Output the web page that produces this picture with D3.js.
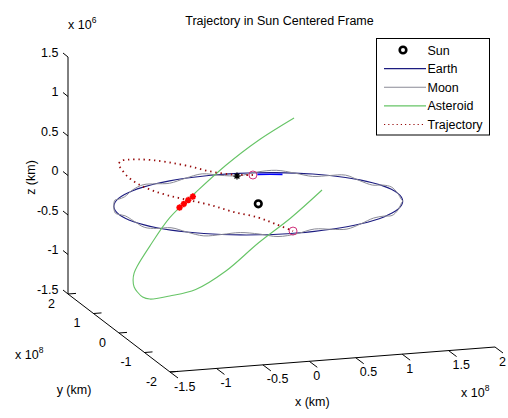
<!DOCTYPE html>
<html>
<head>
<meta charset="utf-8">
<script src="https://cdn.jsdelivr.net/npm/d3@7"></script>
<style>
  html, body { margin: 0; padding: 0; background: #fff; }
  svg { display: block; }
  text { font-family: "Liberation Sans", Arial, sans-serif; fill: #000; }
</style>
</head>
<body>
<svg id="chart" width="508" height="418"></svg>
<script>
// ---- data (x, y in 1e8 km; z in 1e6 km) ----
const xTicks = [-1.5, -1, -0.5, 0, 0.5, 1, 1.5, 2];
const yTicks = [-2, -1, 0, 1, 2];
const zTicks = [-1.5, -1, -0.5, 0, 0.5, 1, 1.5];
const xTickLabels = ["-1.5", "-1", "-0.5", "0", "0.5", "1", "1.5", "2"];
const yTickLabels = ["-2", "-1", "0", "1", "2"];
const zTickLabels = ["-1.5", "-1", "-0.5", "0", "0.5", "1", "1.5"];

const sunPos = [0, 0, 0];

const earthX = [1.5, 1.487, 1.449, 1.386, 1.299, 1.19, 1.061, 0.913, 0.75, 0.574, 0.388, 0.196,
  0, -0.196, -0.388, -0.574, -0.75, -0.913, -1.061, -1.19, -1.299, -1.386, -1.449, -1.487,
  -1.5, -1.487, -1.449, -1.386, -1.299, -1.19, -1.061, -0.913, -0.75, -0.574, -0.388, -0.196,
  0, 0.196, 0.388, 0.574, 0.75, 0.913, 1.061, 1.19, 1.299, 1.386, 1.449, 1.487];
const earthY = [0, 0.196, 0.388, 0.574, 0.75, 0.913, 1.061, 1.19, 1.299, 1.386, 1.449, 1.487,
  1.5, 1.487, 1.449, 1.386, 1.299, 1.19, 1.061, 0.913, 0.75, 0.574, 0.388, 0.196,
  0, -0.196, -0.388, -0.574, -0.75, -0.913, -1.061, -1.19, -1.299, -1.386, -1.449, -1.487,
  -1.5, -1.487, -1.449, -1.386, -1.299, -1.19, -1.061, -0.913, -0.75, -0.574, -0.388, -0.196];
const earthZ = [0, 0, 0, 0, 0, 0, 0, 0, 0, 0, 0, 0, 0, 0, 0, 0, 0, 0, 0, 0, 0, 0, 0, 0,
  0, 0, 0, 0, 0, 0, 0, 0, 0, 0, 0, 0, 0, 0, 0, 0, 0, 0, 0, 0, 0, 0, 0, 0];

// Moon follows the Earth, rising and falling about the ecliptic each month
const moonX = earthX;
const moonY = earthY;
const moonZ = [0.00, 0.03, 0.01, -0.03, -0.01, 0.03, 0.00, -0.03, 0.00, 0.03, 0.01, -0.03,
  -0.01, 0.03, 0.00, -0.03, 0.00, 0.03, 0.01, -0.03, -0.01, 0.03, 0.00, -0.03,
  0.00, 0.03, 0.01, -0.03, -0.01, 0.03, 0.00, -0.03, 0.00, 0.03, 0.01, -0.03,
  -0.01, 0.03, 0.00, -0.03, 0.00, 0.03, 0.01, -0.03, -0.01, 0.03, 0.00, -0.03];

// Earth positions while the craft is away
const earthArcX = [0.388, 0.513, 0.634];
const earthArcY = [1.449, 1.410, 1.359];
const earthArcZ = [-0.02, -0.02, -0.02];

const asteroidX = [0.342, -0.008, -0.344, -0.657, -0.925, -1.130, -1.258, -1.290, -1.300, -1.288,
  -1.254, -1.198, -1.122, -0.914, -0.643, -0.329, 0.008, 0.344, 0.688];
const asteroidY = [-1.254, -1.300, -1.254, -1.122, -0.914, -0.643, -0.329, -0.162, 0.008, 0.178,
  0.344, 0.505, 0.657, 0.925, 1.130, 1.258, 1.300, 1.254, 1.103];
const asteroidZ = [0.453, 0.142, -0.156, -0.515, -0.776, -0.906, -1.011, -1.024, -1.001, -0.981,
  -0.937, -0.892, -0.848, -0.681, -0.396, -0.138, 0.166, 0.461, 0.752];

const trajX = [0.330, 0.135, -0.118, -0.367, -0.605, -0.824, -1.019, -1.183, -1.311, -1.398,
  -1.444, -1.445, -1.403, -1.318, -1.193, -1.032, -0.839, -0.621, -0.384, -0.211, -0.024];
const trajY = [1.412, 1.444, 1.445, 1.403, 1.318, 1.193, 1.032, 0.839, 0.621, 0.384,
  0.135, -0.118, -0.367, -0.605, -0.824, -1.019, -1.183, -1.311, -1.398, -1.435, -1.450];
const trajZ = [-0.014, 0.0, 0.063, 0.165, 0.254, 0.334, 0.40, 0.457, 0.506, 0.522,
  0.549, 0.511, 0.473, 0.442, 0.416, 0.392, 0.352, 0.275, 0.206, 0.118, 0.015];

// rendezvous with the asteroid
const meetX = [-0.362, -0.416, -0.469, -0.521];
const meetY = [1.249, 1.232, 1.212, 1.191];
const meetZ = [-0.184, -0.219, -0.259, -0.294];

const departPos = [0.330, 1.412, -0.014];
const returnPos = [-0.024, -1.450, 0.015];
const craftPos = [0.166, 1.44, -0.02];

const legendLabels = ["Sun", "Earth", "Moon", "Asteroid", "Trajectory"];

// ---- scales & projection ----
const xS = d3.scaleLinear().domain([-1.5, 2]).range([0, 1]);
const yS = d3.scaleLinear().domain([-2, 2]).range([0, 1]);
const zS = d3.scaleLinear().domain([-1.5, 1.5]).range([0, 1]);

const O = [170, 372];        // corner (xmin, ymin, zmin)
const VX = [325, -25];       // full x span on screen
const VY = [-102, -78];      // full y span on screen
const VZ = [0, -237];        // full z span on screen

function P(x, y, z) {
  const a = xS(x), b = yS(y), c = zS(z);
  return [O[0] + a * VX[0] + b * VY[0] + c * VZ[0],
          O[1] + a * VX[1] + b * VY[1] + c * VZ[1]];
}
function pts(X, Y, Z) { return X.map((v, i) => P(v, Y[i], Z[i])); }

const svg = d3.select("#chart");
svg.append("rect").attr("width", 508).attr("height", 418).attr("fill", "#fff");

const FS = 12.5;
const COL = {
  earth: "#1c1c80",
  moon: "#8a8a96",
  earthArc: "#0000ff",
  asteroid: "#66c466",
  traj: "#960a0a",
  mark: "#d0307a",
  meet: "#ff0000"
};

// ---- axes ----
const ax = svg.append("g").attr("stroke", "#000").attr("stroke-width", 1).attr("fill", "none");
function seg(g, p, q) {
  g.append("line").attr("x1", p[0]).attr("y1", p[1]).attr("x2", q[0]).attr("y2", q[1]);
}
seg(ax, P(-1.5, -2, -1.5), P(2, -2, -1.5));
seg(ax, P(-1.5, -2, -1.5), P(-1.5, 2, -1.5));
seg(ax, P(-1.5, 2, -1.5), P(-1.5, 2, 1.5));

const lbl = svg.append("g").style("font-size", FS + "px");

xTicks.forEach((v, i) => {
  const p = P(v, -2, -1.5);
  seg(ax, p, [p[0] + 8, p[1] + 6]);
  lbl.append("text").attr("x", p[0] + 4).attr("y", p[1] + 18.5)
    .attr("text-anchor", "start").text(xTickLabels[i]);
});
yTicks.forEach((v, i) => {
  const p = P(-1.5, v, -1.5);
  seg(ax, p, [p[0] + 8, p[1] - 0.6]);
  lbl.append("text").attr("x", p[0] - 13).attr("y", p[1] + 13.5)
    .attr("text-anchor", "end").text(yTickLabels[i]);
});
zTicks.forEach((v, i) => {
  const p = P(-1.5, 2, v);
  seg(ax, p, [p[0] - 5, p[1] - 4]);
  lbl.append("text").attr("x", p[0] - 9.5).attr("y", p[1] - 0.5)
    .attr("text-anchor", "end").text(zTickLabels[i]);
});

// axis titles
const zc = P(-1.5, 2, 0);
lbl.append("text").attr("transform", `translate(${zc[0] - 37},${zc[1] + 2}) rotate(-90)`)
  .attr("text-anchor", "middle").attr("dy", "0.35em").text("z (km)");
const yc = P(-1.5, 0, -1.5);
lbl.append("text").attr("x", yc[0] - 45).attr("y", yc[1] + 61)
  .attr("text-anchor", "middle").text("y (km)");
const xc = P(0, -2, -1.5);
lbl.append("text").attr("x", xc[0] + 3).attr("y", xc[1] + 45)
  .attr("text-anchor", "middle").text("x (km)");

// exponent labels
function expo(x, y, e) {
  const t = lbl.append("text").attr("x", x).attr("y", y);
  t.append("tspan").text("x 10");
  t.append("tspan").attr("dy", -6).style("font-size", "8.5px").text(e);
}
const zt = P(-1.5, 2, 1.5);
expo(zt[0], zt[1] - 28, "6");
const yt = P(-1.5, -2, -1.5);
expo(15, yt[1] - 13, "8");
const xt = P(2, -2, -1.5);
expo(xt[0] - 34, xt[1] + 50, "8");

// title
lbl.append("text").attr("x", 279.5).attr("y", 25).attr("text-anchor", "middle")
  .text("Trajectory in Sun Centered Frame");

// ---- data marks ----
const plot = svg.append("g").attr("fill", "none");
const closedLine = d3.line().curve(d3.curveCatmullRomClosed);
const openLine = d3.line().curve(d3.curveCatmullRom);

plot.append("path").attr("d", closedLine(pts(earthX, earthY, earthZ)))
  .attr("stroke", COL.earth).attr("stroke-width", 1.1);
plot.append("path").attr("d", closedLine(pts(moonX, moonY, moonZ)))
  .attr("stroke", COL.moon).attr("stroke-width", 1);
plot.append("path").attr("d", openLine(pts(earthArcX, earthArcY, earthArcZ)))
  .attr("stroke", COL.earthArc).attr("stroke-width", 1.6);
plot.append("path").attr("d", openLine(pts(asteroidX, asteroidY, asteroidZ)))
  .attr("stroke", COL.asteroid).attr("stroke-width", 1.1);
plot.append("path").attr("d", openLine(pts(trajX, trajY, trajZ)))
  .attr("stroke", COL.traj).attr("stroke-width", 1.8).attr("stroke-dasharray", "1.4,3.8");

// asterisk marker
function star(g, c, s, color, w) {
  const d = s * 0.7;
  const path = `M${c[0] - s},${c[1]}L${c[0] + s},${c[1]}M${c[0]},${c[1] - s}L${c[0]},${c[1] + s}` +
    `M${c[0] - d},${c[1] - d}L${c[0] + d},${c[1] + d}M${c[0] - d},${c[1] + d}L${c[0] + d},${c[1] - d}`;
  g.append("path").attr("d", path).attr("stroke", color).attr("stroke-width", w);
}
pts(meetX, meetY, meetZ).forEach(p => star(plot, p, 3.2, COL.meet, 1.8));
star(plot, P(...craftPos), 3.5, "#000", 1.3);

[departPos, returnPos].forEach(q => {
  const p = P(...q);
  plot.append("circle").attr("cx", p[0]).attr("cy", p[1]).attr("r", 4)
    .attr("stroke", COL.mark).attr("stroke-width", 1);
});

const sp = P(...sunPos);
plot.append("circle").attr("cx", sp[0]).attr("cy", sp[1]).attr("r", 3.3)
  .attr("stroke", "#000").attr("stroke-width", 2.6).attr("fill", "#fff");

// ---- legend ----
const lg = svg.append("g");
lg.append("rect").attr("x", 376.5).attr("y", 38.5).attr("width", 113).attr("height", 96.5)
  .attr("fill", "#fff").attr("stroke", "#000").attr("stroke-width", 1);
const rowY = d3.scaleLinear().domain([0, 4]).range([50, 124.5]);
legendLabels.forEach((name, i) => {
  const y = rowY(i);
  if (i === 0) {
    lg.append("circle").attr("cx", 403).attr("cy", y).attr("r", 3.3)
      .attr("stroke", "#000").attr("stroke-width", 2.6).attr("fill", "#fff");
  } else {
    const stroke = [null, COL.earth, COL.moon, COL.asteroid, COL.traj][i];
    const ln = lg.append("line").attr("x1", 384).attr("x2", 426).attr("y1", y).attr("y2", y)
      .attr("stroke", stroke).attr("stroke-width", i === 4 ? 1.2 : 1.1);
    if (i === 4) ln.attr("stroke-dasharray", "1.2,3");
  }
  lg.append("text").attr("x", 427.5).attr("y", y + 4.5).style("font-size", FS + "px").text(name);
});
</script>
</body>
</html>
